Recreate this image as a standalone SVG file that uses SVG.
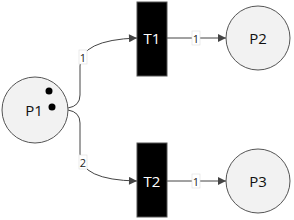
<svg xmlns="http://www.w3.org/2000/svg" width="294" height="220" viewBox="0 0 294 220">
<style>
.place{fill:#f2f2f2;stroke:#555;stroke-width:1}
.trans{fill:#000;stroke:#555;stroke-width:1}
.lbl{font-family:"Open Sans","DejaVu Sans",sans-serif;font-size:15px;text-anchor:middle;dominant-baseline:central;fill:#111}
.wl{fill:#fff}
.edge{fill:none;stroke:#444;stroke-width:1}
.wbox{fill:#fff;stroke:#ddd;stroke-width:0.6}
.wt{font-family:"Open Sans","DejaVu Sans",sans-serif;font-size:11px;text-anchor:middle;dominant-baseline:central;fill:#222}
</style>
<defs>
<marker id="arr" viewBox="0 0 10 10" refX="10" refY="5" markerWidth="9" markerHeight="8" markerUnits="userSpaceOnUse" orient="auto">
<path d="M0,0 L10,5 L0,10 z" fill="#444"/>
</marker>
</defs>
<g id="connectors">
<path class="edge" d="M68,108 Q80,106 80,95 L80,66 Q80,40 137,38" marker-end="url(#arr)"/>
<path class="edge" d="M68,110 Q80,112 80,123 L80,154 Q80,180 137,181" marker-end="url(#arr)"/>
<path class="edge" d="M167,38 L226,38" marker-end="url(#arr)"/>
<path class="edge" d="M167,181 L226,181" marker-end="url(#arr)"/>
<rect class="wbox" x="79" y="50" width="8" height="14"/>
<text class="wt" x="83" y="57">1</text>
<rect class="wbox" x="79" y="155" width="8" height="14"/>
<text class="wt" x="83" y="162">2</text>
<rect class="wbox" x="192" y="31" width="8" height="14"/>
<text class="wt" x="196" y="38">1</text>
<rect class="wbox" x="192" y="174" width="8" height="14"/>
<text class="wt" x="196" y="181">1</text>
</g>
<g id="P1">
<circle class="place" cx="35" cy="110" r="33"/>
<text class="lbl" x="34" y="110">P1</text>
<circle cx="49" cy="91" r="3.5" fill="#000"/>
<circle cx="52" cy="107" r="3.5" fill="#000"/>
</g>
<g id="T1">
<rect class="trans" x="137" y="2" width="30" height="74"/>
<text class="lbl wl" x="152" y="38">T1</text>
</g>
<g id="T2">
<rect class="trans" x="137" y="143" width="30" height="74"/>
<text class="lbl wl" x="152" y="181">T2</text>
</g>
<g id="P2">
<circle class="place" cx="258" cy="38" r="32"/>
<text class="lbl" x="258" y="38">P2</text>
</g>
<g id="P3">
<circle class="place" cx="258" cy="181" r="32"/>
<text class="lbl" x="258" y="181">P3</text>
</g>
</svg>
